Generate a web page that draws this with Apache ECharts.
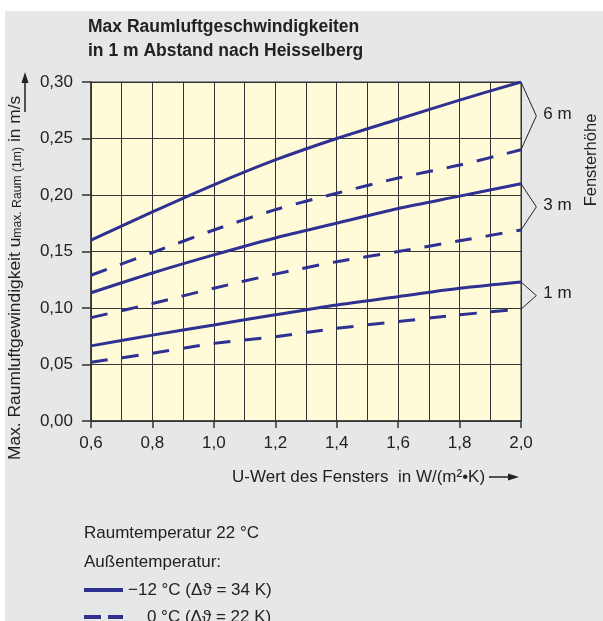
<!DOCTYPE html>
<html lang="de">
<head>
<meta charset="UTF-8">
<title>Max Raumluftgeschwindigkeiten</title>
<script src="https://cdn.jsdelivr.net/npm/echarts@6/dist/echarts.min.js"></script>
<style>
  html, body { margin: 0; padding: 0; background: #ffffff; }
  #wrap { position: relative; width: 603px; height: 621px; overflow: hidden; }
  #bg { position: absolute; left: 5px; top: 11px; right: 0; bottom: 0; background: #e6e7e9; }
  #chart { position: absolute; left: 0; top: 0; width: 603px; height: 621px; }
</style>
</head>
<body>
<div id="wrap">
  <div id="bg"></div>
  <div id="chart"></div>
</div>
<script type="text/javascript">
// U-Wert des Fensters (x)
const uValues = [0.6, 0.8, 1.0, 1.2, 1.4, 1.6, 1.8, 2.0];

// max. Raumluftgeschwindigkeit in m/s, solid = -12 °C, dashed = 0 °C
const h6Cold = [0.160, 0.185, 0.209, 0.231, 0.250, 0.267, 0.284, 0.300];
const h6Mild = [0.129, 0.149, 0.169, 0.187, 0.2015, 0.215, 0.2265, 0.240];
const h3Cold = [0.1135, 0.131, 0.147, 0.162, 0.175, 0.188, 0.199, 0.210];
const h3Mild = [0.0915, 0.104, 0.1175, 0.130, 0.141, 0.150, 0.1595, 0.169];
const h1Cold = [0.0665, 0.076, 0.085, 0.094, 0.1027, 0.110, 0.1174, 0.123];
const h1Mild = [0.052, 0.060, 0.0687, 0.0746, 0.082, 0.088, 0.094, 0.099];

const heightLabels = ['6 m', '3 m', '1 m'];
const coldName = '\u221212 °C (\u0394\u03D1 = 34 K)';
const mildName = '\u2007\u20070 °C (\u0394\u03D1 = 22 K)';

const blue = '#2e3192';
const ink = '#222222';
const font = '"Liberation Sans", Arial, sans-serif';
const bracketTipX = 2.05;

const chart = echarts.init(document.getElementById('chart'));

function pairs(ys) {
  return uValues.map((x, i) => [x, ys[i]]);
}
function comma(v, digits) {
  return v.toFixed(digits).replace('.', ',');
}

function curve(name, ys, dashed) {
  return {
    name: name,
    type: 'line',
    data: pairs(ys),
    smooth: 0.3,
    symbol: 'none',
    z: 5,
    lineStyle: { color: blue, width: 3, type: dashed ? [17, 14] : 'solid' },
    itemStyle: { color: blue }
  };
}

// one bracket per window height: end of solid curve, end of dashed curve
const last = uValues.length - 1;
const bracketData = [
  [uValues[last], h6Cold[last], h6Mild[last], 0],
  [uValues[last], h3Cold[last], h3Mild[last], 1],
  [uValues[last], h1Cold[last], h1Mild[last], 2]
];

function renderBracket(params, api) {
  const x = api.value(0);
  const top = api.value(1);
  const bottom = api.value(2);
  const p1 = api.coord([x, top]);
  const p2 = api.coord([bracketTipX, (top + bottom) / 2]);
  const p3 = api.coord([x, bottom]);
  return {
    type: 'group',
    children: [{
      type: 'polyline',
      shape: { points: [p1, p2, p3] },
      style: { stroke: ink, lineWidth: 1, fill: null }
    }, {
      type: 'text',
      x: p2[0] + 7,
      y: p2[1] - 2,
      style: {
        text: heightLabels[api.value(3)],
        fill: ink,
        font: '17px ' + font,
        verticalAlign: 'middle'
      }
    }]
  };
}

function legendRow(y, dash, label) {
  return [{
    type: 'line',
    shape: { x1: 84, y1: y, x2: 123, y2: y },
    style: { stroke: blue, lineWidth: 4, lineDash: dash }
  }, {
    type: 'text',
    x: 128, y: y,
    style: { text: label, fill: ink, font: '17px ' + font, verticalAlign: 'middle' }
  }];
}

const option = {
  animation: false,
  textStyle: { fontFamily: font },
  title: {
    text: 'Max Raumluftgeschwindigkeiten\nin 1 m Abstand nach Heisselberg',
    left: 83,
    top: 10,
    textStyle: { fontSize: 17.5, fontWeight: 'bold', color: ink, lineHeight: 24, fontFamily: font }
  },
  grid: {
    left: 91, top: 82, width: 430, height: 339,
    show: true,
    backgroundColor: '#fffad8',
    borderColor: '#333333',
    borderWidth: 1
  },
  xAxis: {
    type: 'value',
    min: 0.6,
    max: 2.0,
    interval: 0.2,
    axisLine: { show: true, lineStyle: { color: '#333333', width: 1.5 } },
    axisTick: { show: true, length: 7, lineStyle: { color: '#333333', width: 1.5 } },
    axisLabel: { formatter: v => comma(v, 1), fontSize: 17, color: ink, margin: 14 },
    splitLine: { show: true, lineStyle: { color: '#333333', width: 1 } },
    minorTick: { show: false, splitNumber: 2 },
    minorSplitLine: { show: true, lineStyle: { color: '#333333', width: 1 } }
  },
  yAxis: {
    type: 'value',
    min: 0,
    max: 0.3,
    interval: 0.05,
    axisLine: { show: true, lineStyle: { color: '#333333', width: 1.5 } },
    axisTick: { show: true, length: 9, lineStyle: { color: '#333333', width: 1.5 } },
    axisLabel: { formatter: v => comma(v, 2), fontSize: 17, color: ink, margin: 18 },
    splitLine: { show: true, lineStyle: { color: '#333333', width: 1 } }
  },
  series: [
    curve(coldName, h6Cold, false),
    curve(mildName, h6Mild, true),
    curve(coldName, h3Cold, false),
    curve(mildName, h3Mild, true),
    curve(coldName, h1Cold, false),
    curve(mildName, h1Mild, true),
    {
      type: 'custom',
      data: bracketData,
      encode: { x: 0, y: 1 },
      renderItem: renderBracket,
      clip: false,
      silent: true,
      z: 4
    }
  ],
  graphic: [
    // y axis name, reads bottom to top
    {
      type: 'text',
      x: 24, y: 460,
      rotation: Math.PI / 2,
      style: {
        text: 'Max. Raumluftgewindigkeit u{sub|max. Raum (1m)} in m/s',
        fill: ink,
        font: '17.4px ' + font,
        align: 'left',
        verticalAlign: 'bottom',
        rich: {
          sub: { fontSize: 12.2, fill: ink, fontFamily: font, verticalAlign: 'bottom', lineHeight: 12 }
        }
      }
    },
    { type: 'line', shape: { x1: 25, y1: 112, x2: 25, y2: 82 }, style: { stroke: ink, lineWidth: 1.5 } },
    { type: 'polygon', shape: { points: [[25, 72], [21.5, 83], [28.5, 83]] }, style: { fill: ink } },
    // right side label
    {
      type: 'text',
      x: 600, y: 160,
      rotation: Math.PI / 2,
      style: { text: 'Fensterhöhe', fill: ink, font: '16.5px ' + font, align: 'center', verticalAlign: 'bottom' }
    },
    // x axis name with arrow
    {
      type: 'text',
      x: 232, y: 477,
      style: { text: 'U-Wert des Fensters  in W/(m²•K)', fill: ink, font: '17px ' + font, align: 'left', verticalAlign: 'middle' }
    },
    { type: 'line', shape: { x1: 489, y1: 477, x2: 510, y2: 477 }, style: { stroke: ink, lineWidth: 1.5 } },
    { type: 'polygon', shape: { points: [[519, 477], [508, 473.5], [508, 480.5]] }, style: { fill: ink } },
    // notes and legend
    {
      type: 'text',
      x: 84, y: 533,
      style: { text: 'Raumtemperatur 22 °C', fill: ink, font: '17px ' + font, verticalAlign: 'middle' }
    },
    {
      type: 'text',
      x: 84, y: 562,
      style: { text: 'Außentemperatur:', fill: ink, font: '17px ' + font, verticalAlign: 'middle' }
    }
  ].concat(legendRow(590, null, coldName), legendRow(617, [17, 7], mildName))
};

chart.setOption(option);
</script>
</body>
</html>
